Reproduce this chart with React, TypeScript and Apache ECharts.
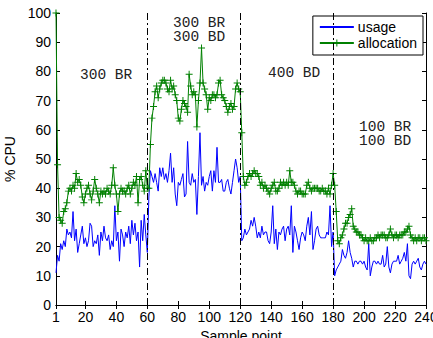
import React, { useEffect, useRef } from "react";
import * as echarts from "echarts";

const usage: number[] = [
  // 1-60
  11, 17, 15, 21, 19, 22, 20, 26, 24, 25, 23, 32, 22, 26, 18, 21, 24, 27, 21, 23,
  20, 22, 28, 27, 20, 22, 21, 24, 17, 25, 22, 27, 23, 22, 24, 19, 22, 20, 34, 22,
  25, 15, 26, 24, 20, 25, 23, 27, 21, 29, 24, 28, 22, 25, 13, 29, 22, 31, 24, 18,
  // 61-120
  37, 46, 44, 42, 45, 42, 39, 47, 44, 47, 43, 45, 42, 46, 52, 42, 47, 38, 34, 42,
  41, 43, 45, 37, 38, 56, 42, 41, 45, 42, 43, 31, 44, 59, 41, 44, 39, 42, 41, 44,
  46, 39, 46, 42, 54, 42, 42, 43, 39, 39, 42, 43, 40, 38, 42, 46, 50, 47, 42, 44,
  // 121-180
  22, 23, 26, 24, 25, 26, 29, 27, 30, 27, 23, 25, 23, 27, 24, 25, 25, 22, 21, 25,
  34, 21, 26, 19, 25, 24, 26, 27, 22, 26, 27, 24, 34, 18, 27, 25, 22, 19, 23, 25,
  24, 22, 27, 30, 24, 32, 19, 22, 26, 27, 24, 23, 23, 23, 23, 25, 24, 34, 20, 25,
  // 181-240
  10, 12, 13, 14, 15, 19, 17, 16, 18, 22, 18, 16, 13, 15, 15, 14, 15, 15, 14, 15,
  13, 12, 21, 10, 13, 15, 15, 14, 15, 14, 14, 17, 13, 14, 20, 13, 11, 14, 15, 15,
  15, 17, 14, 15, 16, 18, 15, 21, 10, 9, 14, 15, 14, 15, 16, 13, 12, 14, 15, 14,
];

const allocation: number[] = [
  // 1-60
  100, 48, 30, 29, 28, 32, 33, 35, 39, 40, 39, 41, 40, 45, 42, 43, 41, 37, 35, 38,
  40, 41, 38, 36, 39, 43, 40, 38, 35, 39, 38, 39, 38, 40, 39, 38, 41, 47, 41, 38,
  32, 38, 40, 39, 39, 38, 40, 41, 38, 40, 42, 41, 44, 35, 43, 44, 41, 39, 46, 40,
  // 61-120
  40, 55, 64, 68, 73, 75, 71, 74, 76, 77, 77, 76, 74, 73, 77, 74, 75, 72, 70, 64,
  63, 67, 70, 69, 68, 66, 79, 75, 72, 73, 72, 61, 70, 76, 88, 76, 74, 72, 67, 71,
  70, 72, 72, 71, 72, 76, 77, 72, 71, 70, 68, 66, 68, 69, 67, 68, 74, 76, 74, 73,
  // 121-180
  59, 44, 41, 42, 44, 45, 44, 45, 46, 45, 45, 44, 41, 42, 40, 41, 40, 39, 38, 40,
  41, 42, 39, 39, 40, 42, 41, 42, 41, 42, 41, 46, 42, 42, 41, 39, 38, 39, 39, 38,
  38, 38, 41, 42, 40, 39, 40, 40, 40, 40, 39, 39, 40, 39, 39, 38, 40, 38, 41, 45,
  // 181-240
  41, 32, 22, 21, 23, 24, 26, 28, 28, 30, 31, 33, 27, 26, 25, 25, 24, 24, 23, 22,
  23, 22, 22, 23, 22, 22, 23, 23, 24, 23, 24, 24, 24, 23, 23, 24, 26, 24, 23, 24,
  24, 23, 24, 24, 24, 25, 25, 26, 27, 24, 23, 22, 23, 22, 23, 23, 22, 23, 23, 22,
];

const xTicks: number[] = [1, 20, 40, 60, 80, 100, 120, 140, 160, 180, 200, 220, 240];
const boundaries: number[] = [60, 120, 180];
const seriesNames: string[] = ["usage", "allocation"];
const annotations: string[] = ["300 BR", "300 BR\n300 BD", "400 BD", "100 BR\n100 BD"];

const PLUS = "path://M4.3,0H5.7V4.3H10V5.7H5.7V10H4.3V5.7H0V4.3H4.3Z";
const SANS = "'Liberation Sans', Arial, sans-serif";
const MONO = "'Liberation Mono', 'DejaVu Sans Mono', monospace";

export default function App() {
  const ref = useRef<HTMLDivElement>(null);
  useEffect(() => {
    if (!ref.current) return;
    const chart = echarts.init(ref.current, null, { renderer: "svg" });
    const annPos = [
      { x: 80, y: 75 },
      { x: 173, y: 30 },
      { x: 268, y: 73 },
      { x: 359, y: 134 },
    ];
    chart.setOption({
      animation: false,
      backgroundColor: "#fff",
      grid: { left: 56, right: 7, top: 13, bottom: 33, outerBoundsMode: "none", containLabel: false },
      legend: {
        orient: "vertical",
        right: 10,
        top: 16,
        data: [
          { name: seriesNames[0], itemStyle: { opacity: 0 } },
          { name: seriesNames[1] },
        ],
        backgroundColor: "#fff",
        borderColor: "#000",
        borderWidth: 1,
        borderRadius: 0,
        padding: [4, 6, 5, 6],
        itemWidth: 34,
        itemHeight: 9,
        itemGap: 2,
        textStyle: { fontFamily: SANS, fontSize: 14, color: "#000", padding: [0, 0, 0, -1] },
      },
      xAxis: [
        {
          type: "value",
          min: 1,
          max: 240,
          position: "bottom",
          name: "Sample point",
          nameLocation: "middle",
          nameGap: 17,
          nameTextStyle: { fontFamily: SANS, fontSize: 14, color: "#000" },
          axisLine: { show: true, lineStyle: { color: "#000", width: 1 } },
          axisTick: { show: true, inside: true, length: 4, customValues: xTicks, lineStyle: { color: "#000" } },
          axisLabel: { customValues: xTicks, fontFamily: SANS, fontSize: 14, color: "#000", margin: 5 },
          splitLine: { show: false },
        },
        {
          type: "value",
          min: 1,
          max: 240,
          position: "top",
          axisLine: { show: true, lineStyle: { color: "#000", width: 1 } },
          axisTick: { show: true, inside: true, length: 4, customValues: xTicks, lineStyle: { color: "#000" } },
          axisLabel: { show: false },
          splitLine: { show: false },
        },
      ],
      yAxis: [
        {
          type: "value",
          min: 0,
          max: 100,
          interval: 10,
          position: "left",
          name: "% CPU",
          nameLocation: "middle",
          nameGap: 34,
          nameTextStyle: { fontFamily: SANS, fontSize: 14, color: "#000" },
          axisLine: { show: true, lineStyle: { color: "#000", width: 1 } },
          axisTick: { show: true, inside: true, length: 4, lineStyle: { color: "#000" } },
          axisLabel: { fontFamily: SANS, fontSize: 14, color: "#000", margin: 5 },
          splitLine: { show: false },
        },
        {
          type: "value",
          min: 0,
          max: 100,
          interval: 10,
          position: "right",
          axisLine: { show: true, lineStyle: { color: "#000", width: 1 } },
          axisTick: { show: true, inside: true, length: 4, lineStyle: { color: "#000" } },
          axisLabel: { show: false },
          splitLine: { show: false },
        },
      ],
      series: [
        {
          name: seriesNames[0],
          type: "line",
          symbol: "none",
          data: usage.map((v, i) => [i + 1, v]),
          lineStyle: { color: "#0000ff", width: 1 },
          itemStyle: { color: "#0000ff" },
          markLine: {
            silent: true,
            symbol: "none",
            label: { show: false },
            lineStyle: { color: "#000", width: 1, type: [7, 3, 2, 3] },
            data: boundaries.map((b) => ({ xAxis: b })),
          },
        },
        {
          name: seriesNames[1],
          type: "line",
          symbol: PLUS,
          symbolSize: 7,
          showAllSymbol: true,
          data: allocation.map((v, i) => [i + 1, v]),
          lineStyle: { color: "#008000", width: 1 },
          itemStyle: { color: "#008000" },
        },
      ],
      graphic: annotations.map((t, i) => ({
        type: "text",
        x: annPos[i].x,
        y: annPos[i].y,
        style: {
          text: t,
          fontFamily: MONO,
          fontSize: 14.5,
          lineHeight: 14.5,
          fill: "#222",
          verticalAlign: "middle",
          align: "left",
        },
      })),
    });
    return () => chart.dispose();
  }, []);
  return (
    <div
      ref={ref}
      style={{ position: "fixed", left: 0, top: 0, width: 433, height: 338 }}
    />
  );
}
